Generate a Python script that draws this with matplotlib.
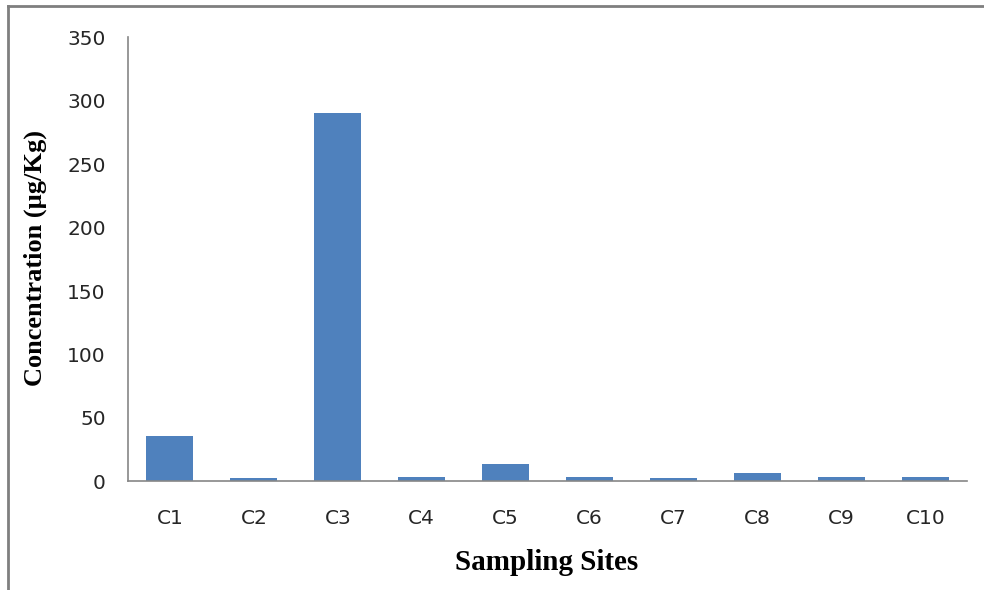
import matplotlib
matplotlib.use("Agg")
import matplotlib.pyplot as plt
from matplotlib.lines import Line2D

sites = ["C1", "C2", "C3", "C4", "C5", "C6", "C7", "C8", "C9", "C10"]
concentration = [36, 2.5, 290, 3.3, 13.5, 3.3, 2.5, 6.7, 3.3, 3.3]
y_ticks = [0, 50, 100, 150, 200, 250, 300, 350]

bar_color = "#4f81bd"
axis_color = "#868686"

fig = plt.figure(figsize=(9.84, 5.90), dpi=100)
ax = fig.add_axes([0.130, 0.184, 0.853, 0.753])

x = range(len(sites))
ax.bar(x, concentration, width=0.56, color=bar_color, zorder=2)

ax.set_xlim(-0.5, len(sites) - 0.5)
ax.set_ylim(0, 350)
ax.set_yticks(y_ticks)
ax.set_xticks(list(x))
ax.set_xticklabels(sites)

for side in ("top", "right"):
    ax.spines[side].set_visible(False)
for side in ("left", "bottom"):
    ax.spines[side].set_color(axis_color)
    ax.spines[side].set_linewidth(1.2)

ax.tick_params(axis="both", length=0, colors="#262626", labelsize=14.5)
ax.tick_params(axis="y", pad=16)
ax.tick_params(axis="x", pad=20)

label_font = dict(family="Liberation Serif", weight="bold")
fig.text(0.556, 0.047, "Sampling Sites", ha="center", va="center",
         size=21, **label_font)
fig.text(0.036, 0.563, "Concentration (µg/Kg)", ha="center", va="center",
         rotation=90, size=19, **label_font)

# outer chart-area border (top and left edges)
fig.add_artist(Line2D([8 / 984, 1.0], [1 - 6 / 590, 1 - 6 / 590],
                      transform=fig.transFigure, color="#7f7f7f", lw=2))
fig.add_artist(Line2D([8 / 984, 8 / 984], [0, 1 - 6 / 590],
                      transform=fig.transFigure, color="#7f7f7f", lw=2))

fig.savefig("out.png", dpi=100)
